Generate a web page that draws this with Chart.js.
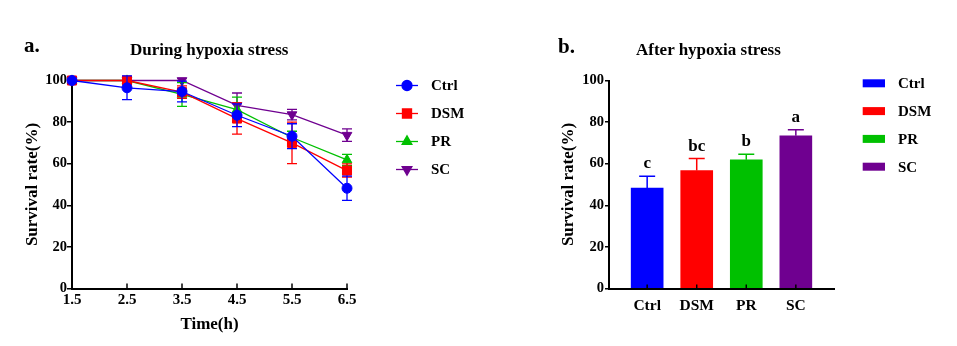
<!DOCTYPE html>
<html><head><meta charset="utf-8">
<script src="https://cdn.jsdelivr.net/npm/chart.js@4.4.1/dist/chart.umd.min.js"></script>
<style>
html,body{margin:0;padding:0;background:#fff;}
#wrap{position:relative;width:957px;height:346px;overflow:hidden;background:#fff;font-family:"Liberation Serif","Times New Roman",serif;font-weight:bold;color:#000;}
canvas{position:absolute;top:0;}
.t{position:absolute;white-space:nowrap;}
</style></head><body>
<div id="wrap">
<canvas id="left" style="left:0;width:480px;height:346px" width="480" height="346"></canvas>
<canvas id="right" style="left:480px;width:477px;height:346px" width="477" height="346"></canvas>
<div class="t" style="left:24px;top:35px;font-size:21px;line-height:21px">a.</div>
<div class="t" style="left:130px;top:41px;font-size:17px;line-height:17px">During hypoxia stress</div>
<div class="t" style="left:558px;top:36px;font-size:21px;line-height:21px">b.</div>
<div class="t" style="left:636px;top:41px;font-size:17px;line-height:17px">After hypoxia stress</div>
</div>
<script>
// ---- data ----
const groups = ['Ctrl', 'DSM', 'PR', 'SC'];
const times = [1.5, 2.5, 3.5, 4.5, 5.5, 6.5];
const yTicks = [0, 20, 40, 60, 80, 100];
const ctrlSurvival = [100, 96.5, 94.7, 83.3, 73.2, 48.2];
const ctrlErr      = [0, 5.7, 5.0, 5.5, 6.0, 5.8];
const dsmSurvival  = [100, 100, 94.4, 81.7, 70.0, 56.7];
const dsmErr       = [0, 0, 3.0, 7.5, 10.0, 3.2];
const prSurvival   = [100, 100, 93.3, 86.0, 72.6, 61.8];
const prErr        = [0, 0, 5.7, 6.0, 3.0, 2.7];
const scSurvival   = [100, 100, 100, 88.0, 83.6, 73.7];
const scErr        = [0, 0, 0, 6.0, 2.5, 3.0];
const afterSurvival = [48.3, 56.7, 61.9, 73.4];
const afterErr      = [5.7, 5.8, 2.7, 2.9];
const sigLetters    = ['c', 'bc', 'b', 'a'];

// ---- styles ----
const colors = ['#0000ff', '#ff0000', '#00c000', '#6f0090'];
const FONT = "'Liberation Serif','Times New Roman',serif";
const pointStyles = ['circle', 'rect', 'triangle', 'triangle'];
const pointRots = [0, 0, 0, 180];
const pointRadii = [5, 6.4, 5.6, 5.6];

const seriesVals = [ctrlSurvival, dsmSurvival, prSurvival, scSurvival];
const seriesErrs = [ctrlErr, dsmErr, prErr, scErr];

function drawMarker(ctx, style, radius, rotation, x, y) {
  if (Chart.helpers && Chart.helpers.drawPoint) {
    Chart.helpers.drawPoint(ctx, {pointStyle: style, radius: radius, rotation: rotation, borderWidth: 1}, x, y);
  }
}

const lineErrPlugin = {
  id: 'lineErr',
  beforeDatasetDraw(chart, args) {
    const ds = chart.data.datasets[args.index];
    const ys = chart.scales.y, ctx = chart.ctx;
    ctx.save();
    ctx.strokeStyle = ds.borderColor; ctx.lineWidth = 1.3;
    args.meta.data.forEach((pt, j) => {
      const e = ds.errors[j]; if (!e) return;
      const v = ds.data[j].y;
      const y1 = ys.getPixelForValue(v + e), y2 = ys.getPixelForValue(v - e);
      ctx.beginPath();
      ctx.moveTo(pt.x, y1); ctx.lineTo(pt.x, y2);
      ctx.moveTo(pt.x - 5, y1); ctx.lineTo(pt.x + 5, y1);
      ctx.moveTo(pt.x - 5, y2); ctx.lineTo(pt.x + 5, y2);
      ctx.stroke();
    });
    ctx.restore();
  }
};

const inwardTicks = {
  id: 'inwardTicks',
  afterDatasetsDraw(chart, args, opts) {
    const xs = chart.scales.x, ctx = chart.ctx;
    const b = chart.chartArea.bottom;
    ctx.save(); ctx.strokeStyle = '#000'; ctx.lineWidth = 1.5;
    xs.ticks.forEach(t => {
      const x = xs.getPixelForValue(t.value);
      ctx.beginPath(); ctx.moveTo(x, b); ctx.lineTo(x, b - opts.len); ctx.stroke();
    });
    ctx.restore();
  }
};

const lineLegend = {
  id: 'lineLegend',
  afterDraw(chart) {
    const ctx = chart.ctx;
    chart.data.datasets.forEach((ds, i) => {
      const y = 85.5 + 28 * i;
      ctx.save();
      ctx.strokeStyle = ds.borderColor; ctx.fillStyle = ds.borderColor; ctx.lineWidth = 1.3;
      ctx.beginPath(); ctx.moveTo(396, y); ctx.lineTo(418, y); ctx.stroke();
      drawMarker(ctx, ds.pointStyle, ds.pointRadius, ds.pointRotation, 407, y);
      ctx.fillStyle = '#000';
      ctx.font = 'bold 15px ' + FONT;
      ctx.textBaseline = 'middle'; ctx.textAlign = 'left';
      ctx.fillText(ds.label, 431, y + 1);
      ctx.restore();
    });
  }
};

const yAxisCommon = (tickLen, pad, titlePad) => ({
  min: 0, max: 100,
  afterBuildTicks: s => { s.ticks = yTicks.map(v => ({value: v})); },
  ticks: {color: '#000', font: {family: FONT, weight: 'bold', size: 14.5}, padding: pad},
  grid: {display: true, drawOnChartArea: false, drawTicks: true, tickLength: tickLen, color: '#000', lineWidth: 1.5},
  border: {display: true, color: '#000', width: 2},
  title: {display: true, text: 'Survival rate(%)', color: '#000', font: {family: FONT, weight: 'bold', size: 17}, padding: {top: titlePad, bottom: 0}}
});

// ---- left chart ----
new Chart(document.getElementById('left'), {
  type: 'line',
  data: {
    datasets: groups.map((g, i) => ({
      label: g,
      data: times.map((t, j) => ({x: t, y: seriesVals[i][j]})),
      errors: seriesErrs[i],
      borderColor: colors[i], backgroundColor: colors[i],
      borderWidth: 1.3, tension: 0,
      pointStyle: pointStyles[i], pointRotation: pointRots[i], pointRadius: pointRadii[i],
      pointBackgroundColor: colors[i], pointBorderColor: colors[i], pointBorderWidth: 1,
      clip: false
    }))
  },
  options: {
    responsive: false, animation: false, devicePixelRatio: 1,
    layout: {padding: {left: 0, top: 80.5, right: 133, bottom: 0}},
    plugins: {legend: {display: false}, tooltip: {enabled: false}, inwardTicks: {len: 5}},
    scales: {
      x: {
        type: 'linear', min: 1.5, max: 6.5,
        afterBuildTicks: s => { s.ticks = times.map(v => ({value: v})); },
        afterFit: s => { s.height = 57.5; },
        ticks: {color: '#000', font: {family: FONT, weight: 'bold', size: 15}, padding: 3, maxRotation: 0,
                callback: v => Number(v).toFixed(1)},
        grid: {display: false, drawTicks: false},
        border: {display: true, color: '#000', width: 2},
        title: {display: true, text: 'Time(h)', color: '#000', font: {family: FONT, weight: 'bold', size: 17}, padding: {top: 0, bottom: 11}}
      },
      y: Object.assign(yAxisCommon(5, 0, 22), {afterFit: s => { s.width = 72; }})
    }
  },
  plugins: [lineErrPlugin, inwardTicks, lineLegend]
});

// ---- right chart ----
const barErrPlugin = {
  id: 'barErr',
  afterDatasetsDraw(chart) {
    const ctx = chart.ctx, ys = chart.scales.y;
    const meta = chart.getDatasetMeta(0);
    meta.data.forEach((bar, j) => {
      const top = ys.getPixelForValue(afterSurvival[j]);
      const et = ys.getPixelForValue(afterSurvival[j] + afterErr[j]);
      ctx.save();
      ctx.strokeStyle = colors[j]; ctx.lineWidth = 1.5;
      ctx.beginPath();
      ctx.moveTo(bar.x, top); ctx.lineTo(bar.x, et);
      ctx.moveTo(bar.x - 8, et); ctx.lineTo(bar.x + 8, et);
      ctx.stroke();
      ctx.fillStyle = '#000';
      ctx.font = 'bold 17px ' + FONT;
      ctx.textAlign = 'center'; ctx.textBaseline = 'alphabetic';
      ctx.fillText(sigLetters[j], bar.x, et - 8);
      ctx.restore();
    });
  }
};
const barLegend = {
  id: 'barLegend',
  afterDraw(chart) {
    const ctx = chart.ctx;
    groups.forEach((g, i) => {
      const y = 83.3 + 27.8 * i;
      ctx.save();
      ctx.fillStyle = colors[i];
      ctx.fillRect(382.7, y - 4, 22.3, 8);
      ctx.fillStyle = '#000';
      ctx.font = 'bold 15px ' + FONT;
      ctx.textBaseline = 'middle'; ctx.textAlign = 'left';
      ctx.fillText(g, 418, y + 1);
      ctx.restore();
    });
  }
};

new Chart(document.getElementById('right'), {
  type: 'bar',
  data: {
    datasets: [{
      label: 'After',
      data: groups.map((g, i) => ({x: i, y: afterSurvival[i]})),
      backgroundColor: colors, borderWidth: 0, barThickness: 32
    }]
  },
  options: {
    responsive: false, animation: false, devicePixelRatio: 1,
    layout: {padding: {left: 0, top: 80.5, right: 123, bottom: 0}},
    plugins: {legend: {display: false}, tooltip: {enabled: false}, inwardTicks: {len: 4}},
    scales: {
      x: {
        type: 'linear', min: -0.77, max: 3.77, offset: false,
        afterBuildTicks: s => { s.ticks = groups.map((g, i) => ({value: i})); },
        afterFit: s => { s.height = 57.5; },
        ticks: {color: '#000', font: {family: FONT, weight: 'bold', size: 15.5}, padding: 8, maxRotation: 0,
                callback: v => groups[Math.round(v)]},
        grid: {display: false, drawTicks: false},
        border: {display: true, color: '#000', width: 2}
      },
      y: Object.assign(yAxisCommon(4, 1, 78), {afterFit: s => { s.width = 129; }})
    }
  },
  plugins: [barErrPlugin, inwardTicks, barLegend]
});
</script>
</body></html>
